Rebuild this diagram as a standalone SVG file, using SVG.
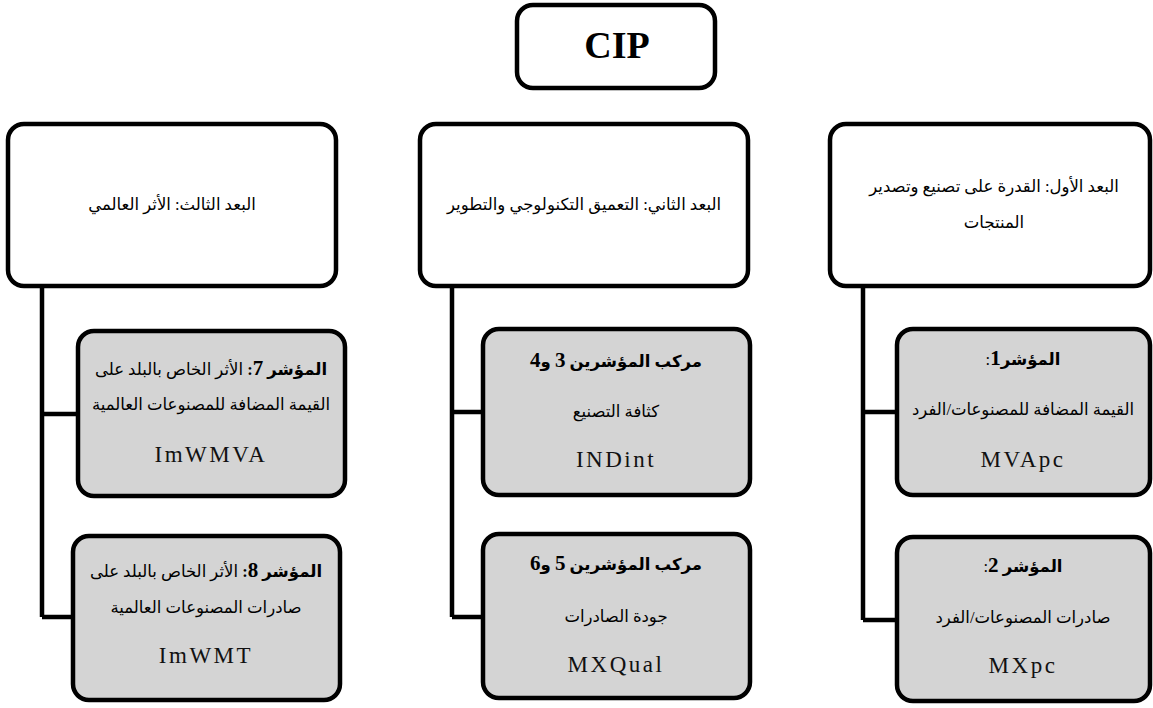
<svg xmlns="http://www.w3.org/2000/svg" width="1153" height="708" viewBox="0 0 1153 708">
<style>
.box{fill:#ffffff;stroke:#000;stroke-width:4.5}
.gbox{fill:#d4d4d4;stroke:#000;stroke-width:4.5}
.ar{font-family:"Liberation Serif","DejaVu Sans",serif;font-size:16.5px;fill:#000;text-anchor:middle;direction:rtl}
.arb{font-weight:bold}
.num{font-size:21px;font-weight:bold}
.lat{font-family:"Liberation Serif","Times New Roman",serif;font-size:23px;fill:#111;text-anchor:middle;letter-spacing:2.5px}
.cip{font-family:"Liberation Serif","Times New Roman",serif;font-size:38px;font-weight:bold;fill:#000;text-anchor:middle}
.conn{fill:none;stroke:#000;stroke-width:4.5}
</style>
<rect width="1153" height="708" fill="#fff"/>
<g id="connectors">
<path class="conn" d="M42 288 V617 M42 414 H78 M42 617 H73"/>
<path class="conn" d="M452 288 V617 M452 412 H483 M452 617 H483"/>
<path class="conn" d="M863 288 V620 M863 412 H897 M863 620 H897"/>
</g>
<g id="cip">
<rect class="box" x="517" y="5" width="198" height="83" rx="16"/>
<text class="cip" x="617" y="58">CIP</text>
</g>
<g id="dim3">
<rect class="box" x="8" y="124" width="328" height="162" rx="16"/>
<text class="ar" x="172" y="210">البعد الثالث: الأثر العالمي</text>
</g>
<g id="dim2">
<rect class="box" x="420" y="124" width="328" height="162" rx="16"/>
<text class="ar" x="584" y="210">البعد الثاني: التعميق التكنولوجي والتطوير</text>
</g>
<g id="dim1">
<rect class="box" x="830" y="124" width="320" height="162" rx="16"/>
<text class="ar" x="994" y="192">البعد الأول: القدرة على تصنيع وتصدير</text>
<text class="ar" x="994" y="228">المنتجات</text>
</g>
<g id="ind7">
<rect class="gbox" x="78" y="331" width="267" height="165" rx="16"/>
<text class="ar" x="211" y="375"><tspan class="arb">المؤشر </tspan><tspan class="num">7</tspan><tspan class="arb">:</tspan> الأثر الخاص بالبلد على</text>
<text class="ar" x="211" y="410">القيمة المضافة للمصنوعات العالمية</text>
<text class="lat" x="211" y="462">ImWMVA</text>
</g>
<g id="ind8">
<rect class="gbox" x="73" y="536" width="267" height="164" rx="16"/>
<text class="ar" x="206" y="577"><tspan class="arb">المؤشر </tspan><tspan class="num">8</tspan><tspan class="arb">:</tspan> الأثر الخاص بالبلد على</text>
<text class="ar" x="206" y="613">صادرات المصنوعات العالمية</text>
<text class="lat" x="206" y="663">ImWMT</text>
</g>
<g id="ind34">
<rect class="gbox" x="483" y="329" width="267" height="166" rx="16"/>
<text class="ar arb" x="616" y="367">مركب المؤشرين <tspan class="num">3</tspan> و<tspan class="num">4</tspan></text>
<text class="ar" x="616" y="417">كثافة التصنيع</text>
<text class="lat" x="616" y="467">INDint</text>
</g>
<g id="ind56">
<rect class="gbox" x="483" y="534" width="267" height="164" rx="16"/>
<text class="ar arb" x="616" y="570">مركب المؤشرين <tspan class="num">5</tspan> و<tspan class="num">6</tspan></text>
<text class="ar" x="616" y="622">جودة الصادرات</text>
<text class="lat" x="616" y="672">MXQual</text>
</g>
<g id="ind1">
<rect class="gbox" x="897" y="329" width="253" height="166" rx="16"/>
<text class="ar" x="1023" y="365"><tspan class="arb">المؤشر</tspan><tspan class="num">1</tspan>:</text>
<text class="ar" x="1023" y="415">القيمة المضافة للمصنوعات/الفرد</text>
<text class="lat" x="1023" y="467">MVApc</text>
</g>
<g id="ind2">
<rect class="gbox" x="897" y="537" width="253" height="164" rx="16"/>
<text class="ar" x="1023" y="572"><tspan class="arb">المؤشر </tspan><tspan class="num">2</tspan>:</text>
<text class="ar" x="1023" y="623">صادرات المصنوعات/الفرد</text>
<text class="lat" x="1023" y="673">MXpc</text>
</g>
</svg>
